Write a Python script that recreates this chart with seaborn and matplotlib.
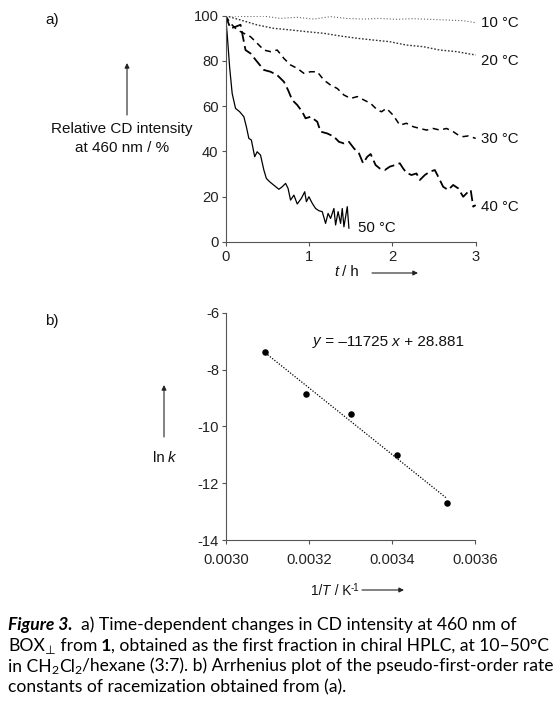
import matplotlib
matplotlib.use("Agg")
import matplotlib.pyplot as plt
from matplotlib.transforms import IdentityTransform
import seaborn as sns
import numpy as np

# ---------------- data ----------------
t50 = [0, 0.02, 0.05, 0.08, 0.12, 0.17, 0.22, 0.25, 0.28, 0.31, 0.33, 0.35, 0.38, 0.42, 0.46,
       0.49, 0.53, 0.58, 0.64, 0.68, 0.72, 0.75, 0.78, 0.82, 0.86, 0.91, 0.95, 0.97, 1.00, 1.04,
       1.08, 1.12, 1.16, 1.20, 1.23, 1.26, 1.30, 1.32, 1.35, 1.38, 1.40, 1.42, 1.46, 1.48]
v50 = [100, 92, 77, 65.6, 59, 57.5, 55.3, 50.9, 45.7, 45, 41.3, 37.6, 39.8, 38.3, 31.7,
       28, 26.5, 25, 23.2, 24.3, 25.8, 23.6, 18.4, 20.6, 16.7, 19.2, 22.1, 17.7, 19.9, 17,
       14.7, 13.7, 13.3, 8.1, 12.5, 10.3, 14.7, 7.4, 13.3, 8.1, 14.7, 6.6, 15.5, 5.9]

t40 = [0, 0.06, 0.12, 0.18, 0.24, 0.30, 0.38, 0.46, 0.54, 0.62, 0.70, 0.75, 0.80, 0.86, 0.92,
       0.96, 1.02, 1.10, 1.14, 1.22, 1.30, 1.36, 1.42, 1.48, 1.54, 1.60, 1.65, 1.70, 1.74, 1.80,
       1.85, 1.91, 1.97, 2.03, 2.09, 2.13, 2.17, 2.23, 2.29, 2.33, 2.39, 2.45, 2.51, 2.55, 2.61,
       2.67, 2.73, 2.79, 2.85, 2.91, 2.94, 2.97, 3.00]
v40 = [100, 94.4, 95.1, 96, 84.8, 83.3, 79.6, 76, 75.2, 73.7, 70.8, 67.1, 62.7, 60.5, 57.5,
       54.6, 55.3, 53.1, 48.7, 47.9, 46.5, 44.2, 43.5, 44.2, 41.3, 39.1, 34.7, 37.6, 38.8, 33.9,
       32.4, 31.7, 33.2, 33.9, 34.7, 32.4, 30.5, 29.5, 30.2, 27.3, 29.5, 31, 31.7, 28.8, 24.3,
       22.9, 25.1, 23.6, 19.9, 22.1, 22.9, 15.5, 16.2]

t30 = [0, 0.06, 0.14, 0.22, 0.30, 0.38, 0.46, 0.54, 0.62, 0.70, 0.78, 0.86, 0.94, 1.02, 1.10,
       1.18, 1.26, 1.34, 1.42, 1.50, 1.58, 1.66, 1.74, 1.82, 1.87, 1.93, 2.01, 2.09, 2.17, 2.25,
       2.33, 2.41, 2.49, 2.57, 2.65, 2.73, 2.79, 2.85, 2.91, 3.00]
v30 = [100, 96.6, 93.7, 92.2, 90.7, 87.8, 84.8, 84.1, 84.8, 81.1, 78.2, 76.7, 74.5, 75.2, 75.2,
       71.5, 69.3, 67.8, 64.9, 63.4, 64.2, 62.7, 61.2, 58.3, 57.5, 59, 56, 51.6, 52.4, 50.9,
       50.1, 49.4, 50.1, 49.4, 50.1, 48.7, 47.2, 46.5, 46.8, 45.7]

t20 = [0, 0.18, 0.38, 0.58, 0.78, 0.98, 1.18, 1.38, 1.58, 1.78, 1.97, 2.17, 2.37, 2.57, 2.77, 3.00]
v20 = [100, 98.1, 95.9, 94.4, 93.7, 92.9, 92.2, 91, 90, 89.2, 88.5, 87, 86.3, 84.8, 84.1, 82.6]

t10 = [0, 0.26, 0.46, 0.66, 0.86, 1.06, 1.26, 1.45, 1.66, 1.85, 2.05, 2.25, 2.45, 2.65, 2.85, 3.00]
v10 = [100, 99.6, 99.8, 98.8, 99.3, 98.5, 99.6, 98.8, 98.5, 98.8, 98.4, 98.7, 98.4, 98.1, 97.8, 96.9]

curve_labels = ["10 °C", "20 °C", "30 °C", "40 °C", "50 °C"]
label_pos = [(3.06, 96.8), (3.06, 80.0), (3.06, 45.3), (3.06, 15.5), (1.59, 5.9)]

inv_T = [0.003095, 0.003193, 0.003300, 0.003411, 0.003532]
ln_k = [-7.39, -8.87, -9.57, -11.0, -12.70]
fit_slope = -11725
fit_intercept = 28.881

top_xticks = [0, 1, 2, 3]
top_yticks = [0, 20, 40, 60, 80, 100]
bot_xticks = [0.0030, 0.0032, 0.0034, 0.0036]
bot_yticks = [-14, -12, -10, -8, -6]

# ---------------- style ----------------
sns.set_style("ticks")
plt.rcParams["font.family"] = ["Liberation Sans", "DejaVu Sans"]
plt.rcParams["axes.unicode_minus"] = False

W, H = 558, 706
fig = plt.figure(figsize=(W / 100, H / 100), dpi=100)

def axes_px(left, top, right, bottom):
    return fig.add_axes([left / W, 1 - bottom / H, (right - left) / W, (bottom - top) / H])

spine_col = "#555555"
tick_col = "#222222"

def style_axes(ax, xpad=2):
    sns.despine(ax=ax)
    for s in ("left", "bottom"):
        ax.spines[s].set_color(spine_col)
        ax.spines[s].set_linewidth(0.8)
    ax.tick_params(direction="out", length=3, width=0.8, color=spine_col,
                   labelsize=10.6, labelcolor=tick_col, pad=2)
    ax.tick_params(axis="x", pad=xpad)
    ax.set_facecolor("none")

# ---------------- panel a ----------------
ax1 = axes_px(225.5, 15.7, 475.7, 241.7)
series = [
    (t10, v10, dict(color="#666666", lw=0.8, linestyle=(0, (1, 1.8)))),
    (t20, v20, dict(color="#333333", lw=1.0, linestyle=(0, (1.2, 1.3)))),
    (t30, v30, dict(color="black", lw=1.1, linestyle=(0, (4, 3)))),
    (t40, v40, dict(color="black", lw=1.3, linestyle=(0, (6, 2.5)))),
    (t50, v50, dict(color="black", lw=0.9, linestyle="-")),
]
for tx, vy, kw in series:
    sns.lineplot(x=tx, y=vy, ax=ax1, estimator=None, sort=False, **kw)
for lab, (lx, ly) in zip(curve_labels, label_pos):
    ax1.text(lx, ly, lab, fontsize=10.8, ha="left", va="center", color="#111111", clip_on=False)
ax1.set_xlim(0, 3)
ax1.set_ylim(0, 100)
ax1.set_xticks(top_xticks)
ax1.set_yticks(top_yticks)
ax1.set_xlabel("")
ax1.set_ylabel("")
style_axes(ax1, xpad=3)

# ---------------- panel b ----------------
ax2 = axes_px(226, 313, 475, 540)
fit_x = [min(inv_T), max(inv_T)]
fit_y = [fit_slope * x + fit_intercept for x in fit_x]
sns.lineplot(x=fit_x, y=fit_y, ax=ax2, color="black", lw=0.9, linestyle=(0, (1, 1.3)),
             estimator=None)
sns.scatterplot(x=inv_T, y=ln_k, ax=ax2, color="black", s=22, edgecolor="black", linewidth=0,
                zorder=3)
ax2.set_xlim(0.0030, 0.0036)
ax2.set_ylim(-14, -6)
ax2.set_xticks(bot_xticks)
ax2.set_xticklabels([f"{v:.4f}" for v in bot_xticks])
ax2.set_yticks(bot_yticks)
ax2.set_xlabel("")
ax2.set_ylabel("")
style_axes(ax2, xpad=6)

# ---------------- rich text helper ----------------
renderer = fig.canvas.get_renderer()

def rich(x, y, pieces, ha="left", size=10, family=("Liberation Sans", "DejaVu Sans"), color="#111111"):
    """x, y in pixels from top-left; y is the baseline."""
    objs = []
    for s, kw in pieces:
        kw = dict(kw)
        dy = kw.pop("dy", 0)
        fs = kw.pop("size", size)
        fam = kw.pop("family", list(family))
        t = fig.text(0, 0, s, fontsize=fs, family=fam, va="baseline", ha="left",
                     color=color, transform=IdentityTransform(), **kw)
        objs.append((t, dy))
    widths = [t.get_window_extent(renderer).width for t, _ in objs]
    total = sum(widths)
    x0 = x - (total / 2 if ha == "center" else 0)
    for (t, dy), w in zip(objs, widths):
        t.set_position((x0, H - y + dy))
        x0 += w

def arrow(x0, y0, x1, y1):
    fig.add_artist(matplotlib.patches.FancyArrowPatch(
        (x0, H - y0), (x1, H - y1), transform=IdentityTransform(),
        arrowstyle="-|>", mutation_scale=7, lw=0.8, color="#222222",
        shrinkA=0, shrinkB=0))

# panel a labels
rich(45, 24, [("a)", {})], size=11)
arrow(127, 115, 127, 63)
rich(122, 133.3, [("Relative CD intensity", {})], ha="center", size=11)
rich(122, 151.5, [("at 460 nm / %", {})], ha="center", size=11)
rich(346.5, 276.5, [("t", dict(style="italic")), (" / h", {})], ha="center", size=10.8)
arrow(372, 273, 418, 273)

# panel b labels
rich(45, 325, [("b)", {})], size=11)
arrow(164, 437, 164, 385)
rich(153, 461.5, [("ln", {}), ("\u2009k", dict(style="italic"))], size=10.8)
rich(313, 345.5, [("y", dict(style="italic")), (" = \u201311725 ", {}), ("x", dict(style="italic")),
                  (" + 28.881", {})], size=11)
rich(311, 595, [("1/", {}), ("T", dict(style="italic")), (" / K", {}), ("-1", dict(size=7, dy=4))],
     size=9.8)
arrow(362, 590, 404, 590)

# caption
cap_fam = ["Lato", "DejaVu Sans"]
cs = 12.6
sub = 8.8
rich(8, 630, [("Figure 3.", dict(weight="bold", style="italic")),
              ("  a) Time-dependent changes in CD intensity at 460 nm of", {})],
     size=cs, family=cap_fam, color="#000000")
rich(8, 651, [("BOX", {}), ("\u22a5", dict(size=sub, dy=-3, family=["DejaVu Sans"])),
              (" from", {}), (" 1", dict(weight="bold")),
              (", obtained as the first fraction in chiral HPLC, at 10\u201350\u00b0C", {})],
     size=cs, family=cap_fam, color="#000000")
rich(8, 671.5, [("in CH", {}), ("2", dict(size=sub, dy=-3)), ("Cl", {}), ("2", dict(size=sub, dy=-3)),
                ("/hexane (3:7). b) Arrhenius plot of the pseudo-first-order rate", {})],
     size=cs, family=cap_fam, color="#000000")
rich(8, 692, [("constants of racemization obtained from (a).", {})],
     size=cs, family=cap_fam, color="#000000")

fig.savefig("out.png", dpi=100, facecolor="white")
